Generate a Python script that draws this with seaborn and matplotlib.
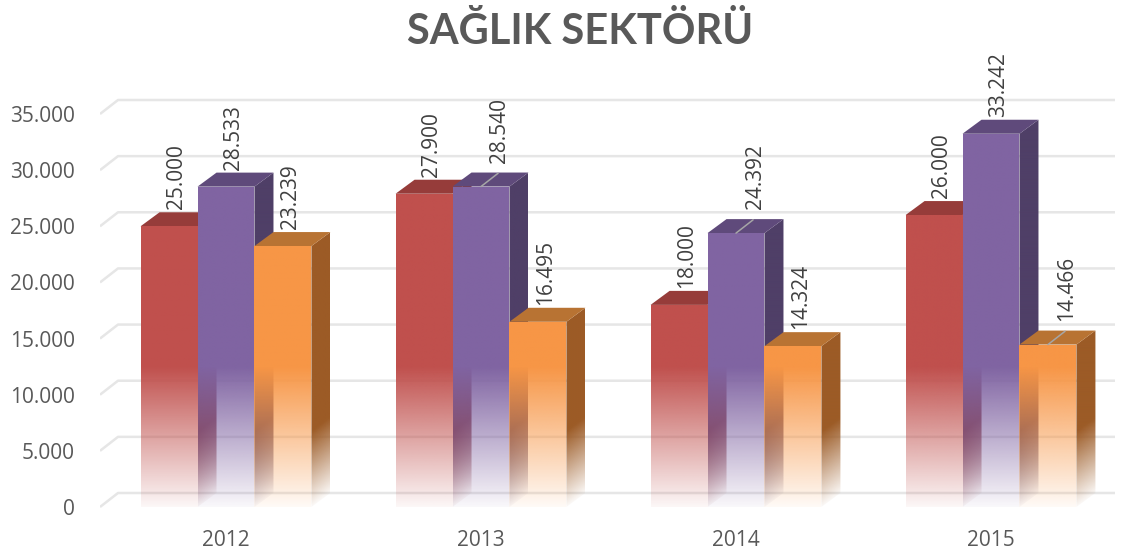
import numpy as np
import pandas as pd
import matplotlib
matplotlib.use("Agg")
import matplotlib.pyplot as plt
from matplotlib.patches import Polygon
from matplotlib.colors import to_rgb
import seaborn as sns

# data
years = ["2012", "2013", "2014", "2015"]
series = ["Seri 1", "Seri 2", "Seri 3"]
seri1 = [25000, 27900, 18000, 26000]
seri2 = [28533, 28540, 24392, 33242]
seri3 = [23239, 16495, 14324, 14466]
y_ticks = [0, 5000, 10000, 15000, 20000, 25000, 30000, 35000]
title = "SAĞLIK SEKTÖRÜ"

front_colors = ["#C0504D", "#8064A2", "#F79646"]
top_colors = ["#963C3A", "#5F4A7B", "#B87333"]
side_colors = ["#8C3836", "#4F3F67", "#9C5B26"]
text_col = "#595959"

df = pd.DataFrame({
    "yil": years * 3,
    "seri": [s for s in series for _ in years],
    "deger": seri1 + seri2 + seri3,
})

# geometry (from the reference pixels)
PX_CAT = 255.0                 # pixels per category
PX_VAL = 393.0 / 35000         # pixels per value unit
DX = 19 / PX_CAT               # depth of the 3d boxes
DY = 14 / PX_VAL
XLIM = ((100 - 226) / PX_CAT, (1120 - 226) / PX_CAT)
YLIM = ((507 - 520) / PX_VAL, (507 - 40) / PX_VAL)

sns.set_theme(style="white")
plt.rcParams["font.family"] = ["Open Sans", "DejaVu Sans"]

fig = plt.figure(figsize=(11.32, 5.51), dpi=100)
ax = fig.add_axes([100 / 1132, (551 - 520) / 551, 1020 / 1132, 480 / 551])

sns.barplot(data=df, x="yil", y="deger", hue="seri", order=years, hue_order=series,
            palette=front_colors, saturation=1, width=0.67, gap=0, errorbar=None,
            legend=False, ax=ax)
bars = sorted(list(ax.patches), key=lambda p: p.get_x())


def front_alpha(v):
    return np.clip((v + 600) / 13000, 0.04, 1)


def side_alpha(v):
    return np.clip((v + 300) / 7000, 0.0, 1)


def gradient_face(verts, color, alpha_fn, z):
    verts = np.asarray(verts)
    x0, y0 = verts.min(axis=0)
    x1, y1 = verts.max(axis=0)
    X, Y = np.meshgrid(np.linspace(x0, x1, 40), np.linspace(y0, y1, 300))
    rgba = np.zeros(X.shape + (4,))
    rgba[..., :3] = to_rgb(color)
    rgba[..., 3] = alpha_fn(X, Y)
    im = ax.imshow(rgba, extent=(x0, x1, y0, y1), origin="lower", aspect="auto",
                   interpolation="bilinear", zorder=z)
    clip = Polygon(verts, closed=True, facecolor="none", edgecolor="none")
    ax.add_patch(clip)
    im.set_clip_path(clip)


# back wall grid lines with the short diagonal on the left
x_diag = XLIM[0] + 18 / PX_CAT
x_right = (1115 - 226) / PX_CAT
for t in y_ticks:
    ax.plot([XLIM[0], x_diag, x_right], [t, t + DY, t + DY], color="#E6E6E6",
            lw=1.8, zorder=0.5, solid_capstyle="butt")

leader = {("2013", 1), ("2014", 1), ("2015", 2)}

for k, bar in enumerate(bars):
    xl, w, h = bar.get_x(), bar.get_width(), bar.get_height()
    gi = int(round(xl + w / 2))
    si = int(round((xl + w / 2 - gi) / w)) + 1
    xr = xl + w
    bar.set_facecolor("none")
    bar.set_edgecolor("none")
    z = 2 + k * 0.01

    side = [(xr, 0), (xr + DX, DY), (xr + DX, h + DY), (xr, h)]

    def s_alpha(X, Y, xr=xr):
        t = np.clip((X - xr) / DX, 0, 1)
        return side_alpha(Y - t * DY)

    gradient_face(side, side_colors[si], s_alpha, z)
    top = [(xl, h), (xl + DX, h + DY), (xr + DX, h + DY), (xr, h)]
    ax.add_patch(Polygon(top, closed=True, facecolor=top_colors[si], edgecolor="none",
                         zorder=z + 0.002))
    gradient_face([(xl, 0), (xl, h), (xr, h), (xr, 0)], front_colors[si],
                  lambda X, Y: front_alpha(Y), z + 0.004)

    xc = xl + w / 2
    lab = f"{int(h):,}".replace(",", ".")
    if (years[gi], si) in leader:
        ax.plot([xc, xc + 0.9 * DX], [h, h + DY * 0.95], color="#A6A6A6", lw=1.1, zorder=50)
        ax.text(xc + DX, h + DY + 10 / PX_VAL, lab, rotation=90, ha="center", va="bottom",
                fontsize=15, color="#404040", zorder=60)
    else:
        ax.text(xc + DX * 0.4, h + DY + 3 / PX_VAL, lab, rotation=90, ha="center", va="bottom",
                fontsize=15, color="#404040", zorder=60)

ax.set_xlim(XLIM)
ax.set_ylim(YLIM)
ax.set_yticks(y_ticks)
ax.set_yticklabels([f"{t:,}".replace(",", ".") for t in y_ticks])
ax.set_xticks(range(len(years)))
ax.set_xticklabels(years)
ax.tick_params(axis="y", length=0, pad=18, labelsize=15, labelcolor=text_col)
ax.tick_params(axis="x", length=0, pad=7, labelsize=15, labelcolor=text_col)
ax.set_xlabel("")
ax.set_ylabel("")
for s in ax.spines.values():
    s.set_visible(False)
ax.grid(False)

fig.text(580 / 1132, 1 - 31 / 551, title, ha="center", va="center", fontsize=30,
         fontweight="bold", color=text_col, family=["Lato", "DejaVu Sans"])

fig.savefig("out.png", dpi=100, facecolor="white")
